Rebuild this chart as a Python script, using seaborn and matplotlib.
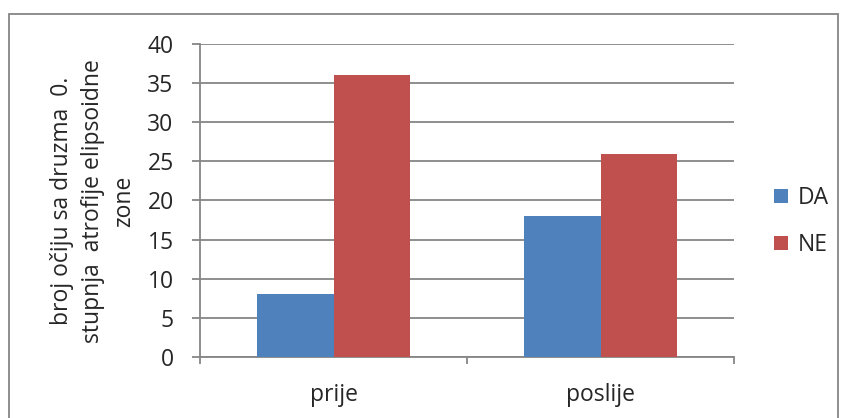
import pandas as pd
import matplotlib
matplotlib.use("Agg")
import matplotlib.pyplot as plt
import seaborn as sns
from matplotlib.patches import Rectangle

# Data
periods = ["prije", "poslije"]
groups = ["DA", "NE"]
da_values = [8, 18]
ne_values = [36, 26]
y_ticks = [0, 5, 10, 15, 20, 25, 30, 35, 40]
y_label = "broj očiju sa druzma  0.\nstupnja  atrofije elipsoidne\nzone"

data = pd.DataFrame({
    "period": periods * 2,
    "group": [groups[0]] * 2 + [groups[1]] * 2,
    "count": da_values + ne_values,
})

sns.set_style("white")
plt.rcParams["font.family"] = ["Open Sans", "DejaVu Sans"]

gray = "#868686"
colors = ["#4F81BD", "#C0504D"]
fs = 16.5

fig = plt.figure(figsize=(8.44, 4.18), dpi=100)
ax = fig.add_axes([0.237, 0.146, 0.8697 - 0.237, 0.8947 - 0.146])

sns.barplot(data=data, x="period", y="count", hue="group", order=periods,
            hue_order=groups, palette=colors, saturation=1, width=0.57,
            linewidth=0, ax=ax, zorder=3)

ax.set_ylim(0, 40)
ax.set_xlim(-0.5, 1.5)
ax.set_yticks(y_ticks)
ax.yaxis.grid(True, color=gray, linewidth=1.3, zorder=0)
ax.set_axisbelow(True)

for side in ["top", "right"]:
    ax.spines[side].set_visible(False)
for side in ["left", "bottom"]:
    ax.spines[side].set_color(gray)
    ax.spines[side].set_linewidth(1.3)

ax.tick_params(axis="y", direction="out", length=6, width=1.3, color=gray,
               labelsize=fs, pad=13, left=True)
ax.tick_params(axis="x", which="major", length=0, labelsize=fs, pad=19)
ax.set_xticks([-0.5, 0.5, 1.5], minor=True)
ax.tick_params(axis="x", which="minor", direction="out", length=5, width=1.3,
               color=gray, bottom=True)

ax.set_xlabel("")
ax.set_ylabel("")
fig.text(93 / 844, 1 - 201 / 418, y_label, rotation=90, ha="center",
         va="center", multialignment="center", fontsize=16.5, linespacing=1.4)

handles, labels = ax.get_legend_handles_labels()
ax.legend(handles, labels, loc="center left", bbox_to_anchor=(774 / 844, 0.47),
          bbox_transform=fig.transFigure, frameon=False, fontsize=fs,
          borderpad=0, borderaxespad=0,
          handlelength=0.6, handleheight=0.6, handletextpad=0.45,
          labelspacing=1.0)

# chart area border
fig.patches.append(Rectangle((9 / 844, -0.05), (838 - 9) / 844, 1.05 - 14 / 418,
                             transform=fig.transFigure, fill=False,
                             edgecolor=gray, linewidth=1.3))

fig.savefig("out.png", dpi=100)
